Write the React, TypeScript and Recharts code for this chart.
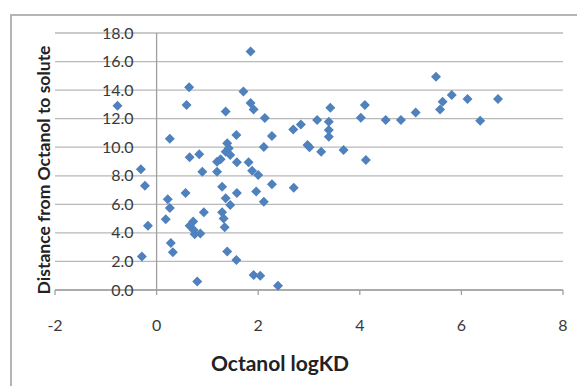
import React from 'react';
import {
  CartesianGrid,
  ReferenceLine,
  Scatter,
  ScatterChart,
  XAxis,
  YAxis,
} from 'recharts';

// Octanol logKD (x) and distance from octanol to solute (y)
const logKD = [
  -0.77, -0.31, -0.23, -0.17, -0.29,
  0.26, 0.64, 0.59, 0.65, 0.84, 0.9, 0.57, 0.22, 0.26, 0.93, 0.18, 0.72, 0.65, 0.73, 0.75, 0.86, 0.28, 0.32, 0.8,
  1.85, 1.71, 1.85, 1.91, 1.36, 2.13, 1.57, 2.27, 1.39, 1.42, 2.11, 1.36, 1.45, 1.19, 1.26, 1.58, 1.81, 1.19,
  1.88, 2.0, 2.27, 1.29, 1.58, 1.96, 1.36, 2.11, 1.45, 1.29, 1.32, 1.34, 1.39, 1.57, 1.91, 2.04, 2.39,
  2.69, 2.84, 3.16, 3.42, 3.39, 3.39, 3.39, 2.97, 3.01, 3.24, 3.68, 4.1, 4.02, 4.12, 4.51, 4.81, 5.1, 2.7,
  5.5, 5.81, 5.63, 5.58, 6.12, 6.72, 6.37,
];
const distance = [
  12.9, 8.45, 7.3, 4.5, 2.35,
  10.6, 14.2, 12.95, 9.3, 9.5, 8.28, 6.8, 6.35, 5.75, 5.44, 4.95, 4.8, 4.5, 4.2, 3.9, 3.95, 3.3, 2.65, 0.6,
  16.7, 13.9, 13.1, 12.65, 12.5, 12.05, 10.85, 10.78, 10.27, 9.92, 10.02, 9.69, 9.45, 8.99, 9.15, 8.94, 8.94, 8.28,
  8.35, 8.05, 7.4, 7.24, 6.8, 6.9, 6.42, 6.18, 5.95, 5.44, 5.0, 4.4, 2.7, 2.1, 1.05, 1.0, 0.3,
  11.25, 11.6, 11.9, 12.77, 11.79, 11.2, 10.74, 10.15, 10.0, 9.69, 9.8, 12.95, 12.07, 9.1, 11.9, 11.9, 12.44, 7.17,
  14.94, 13.66, 13.19, 12.65, 13.38, 13.38, 11.86,
];

const xTicks = [-2, 0, 2, 4, 6, 8];
const yTicks = [0, 2, 4, 6, 8, 10, 12, 14, 16, 18];

const points = logKD.map((x, i) => ({ x, y: distance[i] }));

const W = 577;
const H = 386;
const margin = { top: 33, right: 14, bottom: 0, left: 54 };
const yAxisWidth = 1;
const xMin = -2;
const xMax = 8;
const plotLeft = margin.left + yAxisWidth;
const plotWidth = W - plotLeft - margin.right;
// pixel where the vertical axis crosses (x = 0)
const axisX = plotLeft + ((0 - xMin) / (xMax - xMin)) * plotWidth;

const FONT = 'Lato, "Open Sans", sans-serif';
const BLUE = '#4f81bd';

const Diamond = (props: any) => {
  const { cx, cy } = props;
  const r = 5;
  return (
    <polygon
      points={`${cx},${cy - r} ${cx + r},${cy} ${cx},${cy + r} ${cx - r},${cy}`}
      fill={BLUE}
    />
  );
};

const renderYTick = (props: any) => {
  const { y, payload } = props;
  return (
    <text
      x={axisX - 23}
      y={y}
      dy="0.35em"
      textAnchor="end"
      fontSize={16}
      fontFamily={FONT}
      fill="#3a3a3a"
    >
      {Number(payload.value).toFixed(1)}
    </text>
  );
};

const renderYTitle = () => (
  <text
    x={43}
    y={170}
    transform="rotate(-90 43 170)"
    textAnchor="middle"
    dominantBaseline="central"
    fontSize={17.5}
    fontWeight="bold"
    fontFamily={FONT}
    fill="#222"
  >
    Distance from Octanol to solute
  </text>
);

const renderXTitle = () => (
  <text
    x={280}
    y={371}
    textAnchor="middle"
    fontSize={21}
    fontWeight="bold"
    fontFamily={FONT}
    fill="#222"
  >
    Octanol logKD
  </text>
);

export default function App() {
  return (
    <div
      style={{
        position: 'fixed',
        left: 0,
        top: 0,
        width: W,
        height: H,
        overflow: 'hidden',
        background: '#fff',
      }}
    >
      <div
        style={{
          position: 'absolute',
          left: 10,
          top: 14,
          width: W,
          height: H,
          borderTop: '2px solid #b4b4b4',
          borderLeft: '2px solid #b4b4b4',
        }}
      />
      <div style={{ position: 'absolute', left: 0, top: 0 }}>
        <ScatterChart width={W} height={H} margin={margin}>
          <CartesianGrid vertical={false} stroke="#b8b8b8" strokeWidth={1.3} />
          <XAxis
            type="number"
            dataKey="x"
            domain={[xMin, xMax]}
            ticks={xTicks}
            allowDataOverflow
            height={96}
            stroke="#a0a0a0"
            strokeWidth={1.3}
            tickSize={5}
            tickMargin={25}
            tick={{ fontSize: 16, fontFamily: FONT, fill: '#3a3a3a' }}
            label={{ content: renderXTitle }}
          />
          <YAxis
            type="number"
            dataKey="y"
            domain={[0, 18]}
            ticks={yTicks}
            width={yAxisWidth}
            axisLine={false}
            tickLine={false}
            tick={renderYTick}
            label={{ content: renderYTitle }}
          />
          <ReferenceLine x={0} stroke="#a0a0a0" strokeWidth={1.3} />
          <Scatter data={points} shape={<Diamond />} isAnimationActive={false} />
        </ScatterChart>
      </div>
    </div>
  );
}
